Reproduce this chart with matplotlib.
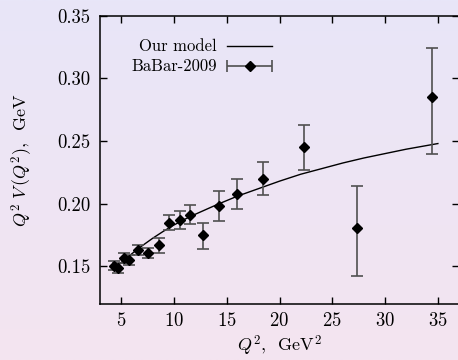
import numpy as np
import matplotlib
matplotlib.use("Agg")
import matplotlib.pyplot as plt

plt.rcParams['font.family'] = 'cmr10'
plt.rcParams['mathtext.fontset'] = 'cm'
plt.rcParams['axes.formatter.use_mathtext'] = True

# BaBar-2009 data
q2 = [4.37, 4.75, 5.31, 5.78, 6.57, 7.58, 8.55, 9.56, 10.57, 11.54, 12.8,
      14.3, 16.0, 18.46, 22.3, 27.36, 34.43]
val = [0.150, 0.149, 0.157, 0.155, 0.163, 0.161, 0.167, 0.185, 0.187, 0.191,
       0.175, 0.198, 0.208, 0.220, 0.245, 0.181, 0.285]
err_lo = [0.003, 0.004, 0.004, 0.004, 0.004, 0.004, 0.006, 0.006, 0.007, 0.007,
          0.011, 0.012, 0.012, 0.013, 0.018, 0.039, 0.045]
err_hi = [0.004, 0.004, 0.004, 0.004, 0.004, 0.004, 0.006, 0.006, 0.007, 0.008,
          0.010, 0.012, 0.012, 0.013, 0.018, 0.033, 0.039]

# model curve
model_x = [4.2, 5, 6, 7, 8, 9, 10, 11, 12, 14, 16, 18, 20, 22, 24, 26, 28,
           30, 32, 35]
model_y = [0.148, 0.153, 0.160, 0.1665, 0.1725, 0.178, 0.183, 0.1875, 0.1915,
           0.199, 0.206, 0.212, 0.218, 0.2235, 0.228, 0.2325, 0.2365, 0.240,
           0.2435, 0.248]

xticks = [5, 10, 15, 20, 25, 30, 35]
yticks = [0.15, 0.20, 0.25, 0.30, 0.35]

fig = plt.figure(figsize=(4.58, 3.6), dpi=100)

# gradient background
bg = fig.add_axes([0, 0, 1, 1], zorder=-10)
top = np.array([232, 230, 248]) / 255
bot = np.array([244, 228, 240]) / 255
t = np.linspace(0, 1, 256)[:, None]
grad = top[None, :] * (1 - t) + bot[None, :] * t
bg.imshow(grad[:, None, :], aspect='auto', extent=[0, 1, 0, 1])
bg.axis('off')

ax = fig.add_axes([100 / 458, 56 / 360, 359 / 458, 288.3 / 360])
ax.set_facecolor('none')

ax.plot(model_x, model_y, color='black', lw=1.0, zorder=3)
ax.errorbar(q2, val, yerr=[err_lo, err_hi], fmt='D', color='black',
            ecolor='#505050', elinewidth=1.2, capsize=4, capthick=1.2,
            markersize=5, zorder=4)

ax.set_xlim(3, 37)
ax.set_ylim(0.12, 0.35)
ax.set_xticks(xticks)
ax.set_yticks(yticks)
ax.set_yticklabels([f"{v:.2f}" for v in yticks])
ax.tick_params(direction='in', length=5, width=1.0, top=True, right=True,
               labelsize=13.5)
ax.tick_params(axis='y', pad=7)
ax.tick_params(axis='x', pad=6)
for s in ax.spines.values():
    s.set_linewidth(1.1)

ax.set_xlabel(r'$Q^2$,  GeV$^2$', fontsize=13, labelpad=2)
ax.set_ylabel(r'$Q^2\;V\,(Q^2)$,  GeV', fontsize=13, labelpad=16)

# legend, gnuplot style
ax.text(0.325, 0.895, 'Our model', transform=ax.transAxes, ha='right',
        va='center', fontsize=12)
ax.plot([0.355, 0.478], [0.895, 0.895], transform=ax.transAxes,
        color='black', lw=1.0)
ax.text(0.325, 0.825, 'BaBar-2009', transform=ax.transAxes, ha='right',
        va='center', fontsize=12)
ax.errorbar([0.4165], [0.825], xerr=[[0.0615], [0.0615]], fmt='D',
            color='black', ecolor='#505050', elinewidth=1.2, capsize=4,
            capthick=1.2, markersize=5, transform=ax.transAxes)

fig.savefig('out.png', dpi=100)
